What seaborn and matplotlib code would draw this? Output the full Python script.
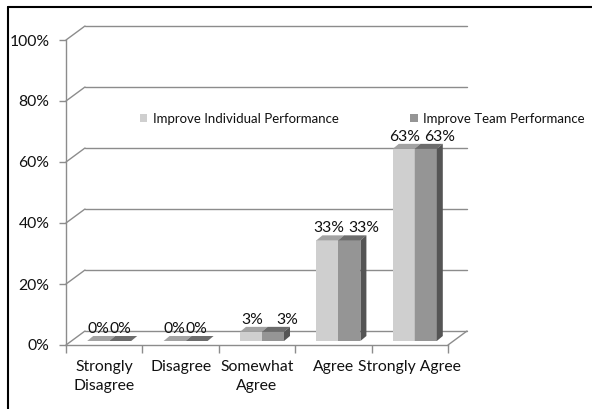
import matplotlib
matplotlib.use("Agg")
import matplotlib.pyplot as plt
from matplotlib.patches import Polygon
from matplotlib.lines import Line2D
import numpy as np
import pandas as pd
import seaborn as sns

categories = ["Strongly Disagree", "Disagree", "Somewhat Agree", "Agree", "Strongly Agree"]
tick_labels = ["Strongly\nDisagree", "Disagree", "Somewhat\nAgree", "Agree", "Strongly Agree"]
series_names = ["Improve Individual Performance", "Improve Team Performance"]
individual = [0, 0, 3, 33, 63]
team = [0, 0, 3, 33, 63]
y_ticks = [0, 20, 40, 60, 80, 100]

df = pd.DataFrame({
    "Response": categories * 2,
    "Series": [series_names[0]] * len(categories) + [series_names[1]] * len(categories),
    "Percent": individual + team,
})

W, H, DPI = 592, 409, 100
sns.set_theme(style="white")
plt.rcParams["font.family"] = ["Lato", "DejaVu Sans"]
TEXT = "#111111"
GRID = "#8c8c8c"
FS = 11.3

fig = plt.figure(figsize=(W / DPI, H / DPI), dpi=DPI)
# front plane of the 3-D box, in pixels
X0, X1, YB, YT = 66, 448, 345, 40
ax = fig.add_axes([X0 / W, (H - YB) / H, (X1 - X0) / W, (YB - YT) / H])
ax.set_xlim(-0.5, 4.5)
ax.set_ylim(0, 100)

# pixel -> data unit conversion (axes size is fixed)
px_x = 5.0 / (X1 - X0)
px_y = 100.0 / (YB - YT)

front = ["#cfcfcf", "#959595"]
tops = ["#a3a3a3", "#6c6c6c"]
sides = ["#8a8a8a", "#555555"]

sns.barplot(data=df, x="Response", y="Percent", hue="Series", palette=front,
            width=0.576, saturation=1, ax=ax, legend=True, linewidth=0, zorder=3)

# depth of the back wall, bar placement depth and bar thickness (pixels)
wall_dx, wall_dy = 19 * px_x, 14 * px_y
shift_dx, shift_dy = 5 * px_x, 4 * px_y
bar_dx, bar_dy = 6 * px_x, 5 * px_y

# back wall gridlines with the diagonal joins to the front axis
for t in y_ticks:
    ax.plot([-0.5 + wall_dx, 4.5 + wall_dx], [t + wall_dy, t + wall_dy],
            color=GRID, lw=1, clip_on=False, zorder=1)
    ax.plot([-0.5, -0.5 + wall_dx], [t, t + wall_dy],
            color=GRID, lw=1, clip_on=False, zorder=1)
# floor right edge
ax.plot([4.5, 4.5 + wall_dx], [0, wall_dy], color=GRID, lw=1, clip_on=False, zorder=1)

for si, cont in enumerate(ax.containers):
    for bar in cont:
        x, w, h = bar.get_x(), bar.get_width(), bar.get_height()
        bx = x + shift_dx
        bar.set_x(bx)
        bar.set_y(shift_dy)
        z = 3 + si * 0.5
        bar.set_zorder(z)
        top = Polygon([(bx, h + shift_dy), (bx + w, h + shift_dy),
                       (bx + w + bar_dx, h + shift_dy + bar_dy),
                       (bx + bar_dx, h + shift_dy + bar_dy)],
                      closed=True, facecolor=tops[si], edgecolor="none",
                      zorder=z + 0.1, clip_on=False)
        side = Polygon([(bx + w, shift_dy), (bx + w, h + shift_dy),
                        (bx + w + bar_dx, h + shift_dy + bar_dy),
                        (bx + w + bar_dx, shift_dy + bar_dy)],
                       closed=True, facecolor=sides[si], edgecolor="none",
                       zorder=z + 0.1, clip_on=False)
        ax.add_patch(top)
        ax.add_patch(side)
        # value label
        if h > 0:
            xoff = 1 if si == 0 else 14
        else:
            xoff = 0
        ax.annotate(f"{h:.0f}%", xy=(bx + w / 2, h + shift_dy),
                    xytext=(xoff * 0.72, 8 * 0.72), textcoords="offset points",
                    ha="center", va="baseline", fontsize=FS, color=TEXT,
                    annotation_clip=False, zorder=6)

# axes styling
for s in ["top", "right"]:
    ax.spines[s].set_visible(False)
for s in ["left", "bottom"]:
    ax.spines[s].set_color(GRID)
    ax.spines[s].set_linewidth(1)
ax.set_xlabel("")
ax.set_ylabel("")
ax.set_yticks(y_ticks)
ax.set_yticklabels([f"{t}%" for t in y_ticks])
ax.tick_params(axis="y", length=5, width=1, color=GRID, pad=7,
               labelsize=FS, labelcolor=TEXT, left=True)
ax.set_xticks(range(len(categories)))
ax.set_xticklabels(tick_labels, linespacing=1.45)
ax.set_xticks(np.arange(-0.5, len(categories), 1), minor=True)
ax.tick_params(axis="x", which="major", length=0, pad=10.5,
               labelsize=FS, labelcolor=TEXT)
ax.tick_params(axis="x", which="minor", length=6, width=1, color=GRID, bottom=True)

sns.move_legend(ax, "center left", bbox_to_anchor=(140 / W, 1 - 119 / H),
                bbox_transform=fig.transFigure, ncol=2, title=None, frameon=False,
                fontsize=9.5, handlelength=0.55, handleheight=0.55,
                handletextpad=0.4, columnspacing=5.45, borderpad=0,
                borderaxespad=0)
for txt in ax.get_legend().get_texts():
    txt.set_color(TEXT)

# outer frame
fig.add_artist(Line2D([7.5 / W, 1], [1 - 6.5 / H, 1 - 6.5 / H],
                      transform=fig.transFigure, color="black", lw=1.5))
fig.add_artist(Line2D([7.5 / W, 7.5 / W], [0, 1 - 6.5 / H],
                      transform=fig.transFigure, color="black", lw=1.5))

fig.savefig("out.png", dpi=DPI)
